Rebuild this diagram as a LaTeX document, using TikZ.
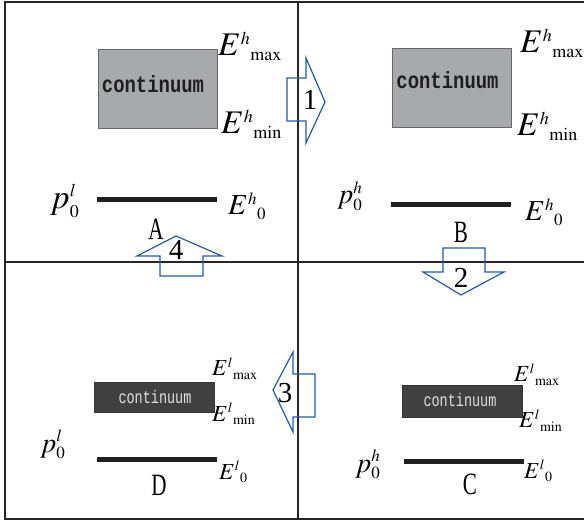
\documentclass[tikz,border=0pt]{standalone}
\usepackage{mathptmx}
\usepackage{fontspec}
\setmainfont{Liberation Serif}
\newfontfamily\contfont{Liberation Mono}
\DeclareMathSizes{34}{34}{18}{12}
\DeclareMathSizes{33}{33}{18}{12}
\DeclareMathSizes{29}{29}{17}{12}
\DeclareMathSizes{28}{28}{17}{12}
\DeclareMathSizes{23}{23}{14}{10}
\definecolor{arrowblue}{RGB}{34,90,176}
\definecolor{framegray}{RGB}{38,38,38}
\definecolor{contlight}{RGB}{168,169,172}
\definecolor{contdark}{RGB}{64,64,64}
\newcommand{\Elev}[2]{$E^{#1}{}_{\mathrm{#2}}$}
\newcommand{\plev}[1]{$p_0^{#1}$}
\newcommand{\narrow}[1]{\scalebox{.68}[1]{#1}}

\begin{document}
\begin{tikzpicture}[x=1pt,y=-1pt,
  frame/.style={framegray,line width=2pt},
  level/.style={black!88,line width=5pt},
  blockarrow/.style={arrowblue,line width=1.2pt,line join=miter},
  ebig/.style={anchor=base west,inner sep=0pt,font=\fontsize{33}{38}\selectfont},
  ezero/.style={anchor=base west,inner sep=0pt,font=\fontsize{29}{34}\selectfont},
  esmall/.style={anchor=base west,inner sep=0pt,font=\fontsize{23}{27}\selectfont},
  pbig/.style={anchor=base west,inner sep=0pt,font=\fontsize{34}{38}\selectfont},
  pmid/.style={anchor=base west,inner sep=0pt,font=\fontsize{28}{32}\selectfont},
  tag/.style={inner sep=0pt,font=\fontsize{31}{31}\selectfont},
  stepnum/.style={inner sep=0pt,font=\fontsize{29}{29}\selectfont},
  hibox/.style={draw=black!60,fill=contlight,line width=.8pt,inner sep=0pt},
  lobox/.style={draw=black!80,fill=contdark,line width=.8pt,inner sep=0pt},
  hitext/.style={inner sep=0pt,text=black!88,font=\contfont\bfseries\fontsize{18}{20}\selectfont},
  lotext/.style={inner sep=0pt,text=black!12,font=\contfont\fontsize{13.5}{15}\selectfont}]
\path[use as bounding box] (0,0) rectangle (584,521);

% frame and quadrants
\draw[frame] (584,2) -- (5,2) -- (5,519) -- (584,519);
\draw[frame] (298,2) -- (298,519);
\draw[frame] (5,262) -- (584,262);

% A
\node[hibox,minimum width=119pt,minimum height=79pt] (boxA) at (157.5,88.5) {};
\node[hitext] (txtA) at (153,84) {\scalebox{1.05}[1.3]{continuum}};
\node[ebig] (AEmax) at (218,56) {\Elev{h}{max}};
\node[ebig] (AEmin) at (221,134) {\Elev{h}{min}};
\draw[level] (97,200) -- (217,200);
\node[ezero] (AE0) at (228,215) {\Elev{h}{0}};
\node[pbig] (Ap) at (50,209) {\plev{l}};
\node[tag] (labA) at (156,229) {\narrow{A}};

% B
\node[hibox,minimum width=119pt,minimum height=79pt] (boxB) at (451.5,87.5) {};
\node[hitext] (txtB) at (447.5,80) {\scalebox{1.05}[1.3]{continuum}};
\node[ebig] (BEmax) at (520,53) {\Elev{h}{max}};
\node[ebig] (BEmin) at (517,136) {\Elev{h}{min}};
\draw[level] (391,205) -- (511,205);
\node[ezero] (BE0) at (525,221) {\Elev{h}{0}};
\node[pmid] (Bp) at (337,204) {\plev{h}};
\node[tag] (labB) at (461,232) {\narrow{B}};

% C
\node[lobox,minimum width=120pt,minimum height=32pt] (boxC) at (462,401) {};
\node[lotext] (txtC) at (460,400) {\scalebox{1}[1.35]{continuum}};
\node[esmall] (CEmax) at (514,382) {\Elev{l}{max}};
\node[esmall] (CEmin) at (519,428) {\Elev{l}{min}};
\draw[level] (404,461) -- (524,461);
\node[esmall] (CE0) at (524,478) {\Elev{l}{0}};
\node[pmid] (Cp) at (355,472) {\plev{h}};
\node[tag] (labC) at (470,484) {\narrow{C}};

% D
\node[lobox,minimum width=120pt,minimum height=30pt] (boxD) at (154,397) {};
\node[lotext] (txtD) at (155,397) {\scalebox{1}[1.35]{continuum}};
\node[esmall] (DEmax) at (212,376) {\Elev{l}{max}};
\node[esmall] (DEmin) at (212,421) {\Elev{l}{min}};
\draw[level] (97,459) -- (217,459);
\node[esmall] (DE0) at (219,479) {\Elev{l}{0}};
\node[pmid] (Dp) at (40,452) {\plev{l}};
\node[tag] (labD) at (159,485) {\narrow{D}};

% steps
\draw[blockarrow] (287,78) -- (306,78) -- (306,58) -- (325,102) -- (306,143) -- (306,121) -- (287,121) -- cycle;
\node[stepnum] (num1) at (310,100) {1};
\draw[blockarrow] (443,248) -- (485,248) -- (485,272) -- (504,272) -- (461,295) -- (423,272) -- (443,272) -- cycle;
\node[stepnum] (num2) at (461,278) {2};
\draw[blockarrow] (315,374) -- (293,374) -- (293,352) -- (273,390) -- (293,432) -- (293,417) -- (315,417) -- cycle;
\node[stepnum] (num3) at (285,393) {3};
\draw[blockarrow] (160,276) -- (203,276) -- (203,256) -- (222,256) -- (176,236) -- (137,256) -- (160,256) -- cycle;
\node[stepnum] (num4) at (176,250) {4};
\end{tikzpicture}
\end{document}
